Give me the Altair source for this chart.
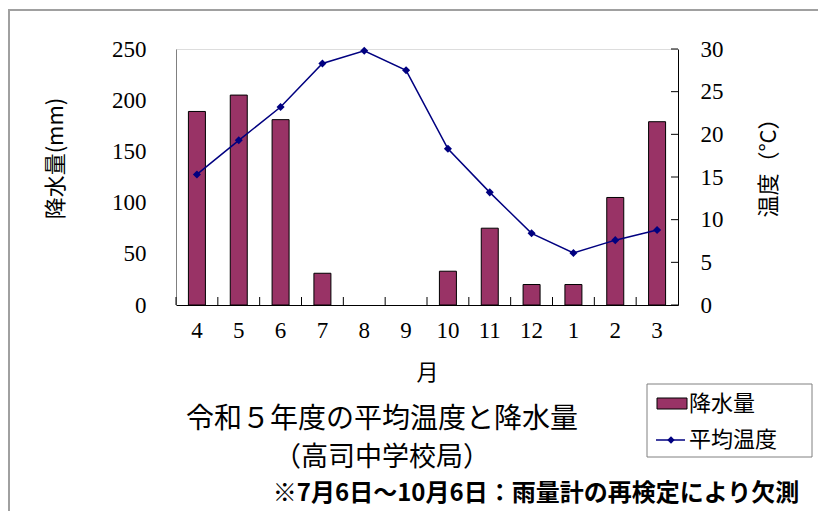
import altair as alt
import pandas as pd

months = ['4', '5', '6', '7', '8', '9', '10', '11', '12', '1', '2', '3']
rain = [189, 205, 181, 31, None, None, 33, 75, 20, 20, 105, 179]
temp = [15.3, 19.3, 23.2, 28.3, 29.8, 27.5, 18.3, 13.2, 8.4, 6.1, 7.6, 8.8]
rain_ticks = [0, 50, 100, 150, 200, 250]
temp_ticks = [0, 5, 10, 15, 20, 25, 30]
title_text = "令和５年度の平均温度と降水量"
subtitle_text = "（高司中学校局）"
footnote_text = "※7月6日～10月6日：雨量計の再検定により欠測"
legend_labels = ["降水量", "平均温度"]
x_title = "月"
y_left_title = "降水量(mm)"
y_right_title = "温度（°C）"

SERIF = "Liberation Serif"
CJK = "Noto Sans CJK JP"
BAR = "#993366"
NAVY = "#000080"

df = pd.DataFrame({"month": months, "rain": rain, "temp": temp})
one = pd.DataFrame({"a": [0]})

x_axis = alt.Axis(title=x_title, labelAngle=0, ticks=False, domainColor="black",
                  labelFont=SERIF, labelFontSize=23, labelColor="black", labelPadding=14,
                  titleFont=CJK, titleFontSize=22, titleFontWeight="normal", titleColor="black",
                  titleY=67, titleBaseline="middle")
x_scale = alt.Scale(paddingInner=0, paddingOuter=0)
x = alt.X("month:N", sort=months, axis=x_axis, scale=x_scale)

bars = alt.Chart(df).mark_bar(size=17, color=BAR, stroke="black", strokeWidth=1).encode(
    x=x,
    y=alt.Y("rain:Q", scale=alt.Scale(domain=[0, 250]),
            axis=alt.Axis(orient="left", values=rain_ticks, ticks=False, grid=False,
                          domainColor="#808080", labelPadding=30, labelFont=SERIF,
                          labelFontSize=23, labelColor="black",
                          title=y_left_title, titleFont=CJK, titleFontSize=22,
                          titleFontWeight="normal", titleColor="black",
                          titleX=-121, titleY=109, titleAngle=270,
                          titleAlign="center", titleBaseline="middle")),
)

line = alt.Chart(df).mark_line(
    color=NAVY, strokeWidth=1.5,
    point=alt.OverlayMarkDef(shape="diamond", size=65, filled=True, color=NAVY),
).encode(
    x=x,
    y=alt.Y("temp:Q", scale=alt.Scale(domain=[0, 30]),
            axis=alt.Axis(orient="right", values=temp_ticks, ticks=False, grid=False,
                          domainColor="black", labelPadding=22, labelFont=SERIF,
                          labelFontSize=23, labelColor="black",
                          title=y_right_title, titleFont=CJK, titleFontSize=22,
                          titleFontWeight="normal", titleColor="black",
                          titleX=90, titleY=113, titleAngle=270,
                          titleAlign="center", titleBaseline="middle")),
)

# inward ticks on the right axis
rticks = alt.Chart(pd.DataFrame({"v": temp_ticks})).mark_rule(color="black").encode(
    y=alt.Y("v:Q", scale=alt.Scale(domain=[0, 30]), axis=None),
    x=alt.value(495), x2=alt.value(502),
)

# category separator ticks on the x axis (pointing up)
xticks = alt.Chart(df).mark_rule(color="black").encode(
    x=alt.X("month:N", sort=months, axis=x_axis, scale=x_scale, bandPosition=0),
    y=alt.value(248), y2=alt.value(256),
)

frame = alt.Chart(one).mark_rect(filled=False, stroke="#a0a0a0", strokeWidth=2).encode(
    x=alt.value(-167), x2=alt.value(648), y=alt.value(-39), y2=alt.value(480))


def txt(s, x, y, size, font=CJK, weight="normal", align="center"):
    return alt.Chart(pd.DataFrame({"t": [s]})).mark_text(
        font=font, fontSize=size, fontWeight=weight, align=align, baseline="middle",
        color="black").encode(x=alt.value(x), y=alt.value(y), text="t:N")


title = txt(title_text, 206, 371, 28)
subtitle = txt(subtitle_text, 206, 409, 27)
footnote = txt(footnote_text, 360, 445, 24, weight="bold")

leg_box = alt.Chart(one).mark_rect(fill="white", stroke="#808080", strokeWidth=1).encode(
    x=alt.value(471), x2=alt.value(636), y=alt.value(335), y2=alt.value(408))
leg_sym1 = alt.Chart(one).mark_rect(fill=BAR, stroke="black", strokeWidth=1).encode(
    x=alt.value(481), x2=alt.value(511), y=alt.value(349), y2=alt.value(360))
leg_line = alt.Chart(one).mark_rule(color=NAVY, strokeWidth=1.5).encode(
    x=alt.value(480), x2=alt.value(509), y=alt.value(391))
leg_pt = alt.Chart(one).mark_point(shape="diamond", size=55, filled=True, color=NAVY,
                                   opacity=1).encode(x=alt.value(495), y=alt.value(391))
leg_t1 = txt(legend_labels[0], 513, 355, 22, align="left")
leg_t2 = txt(legend_labels[1], 513, 391, 22, align="left")

chart = alt.layer(
    frame, bars, line, rticks, xticks, title, subtitle, footnote,
    leg_box, leg_sym1, leg_line, leg_pt, leg_t1, leg_t2,
).resolve_scale(y="independent").properties(
    width=502, height=256, autosize="none",
    padding={"left": 168, "top": 41, "right": 140, "bottom": 206},
).configure_view(stroke="#808080", strokeWidth=1).configure(background="white")

chart.save("out.html", embed_options={"renderer": "svg", "actions": False})
